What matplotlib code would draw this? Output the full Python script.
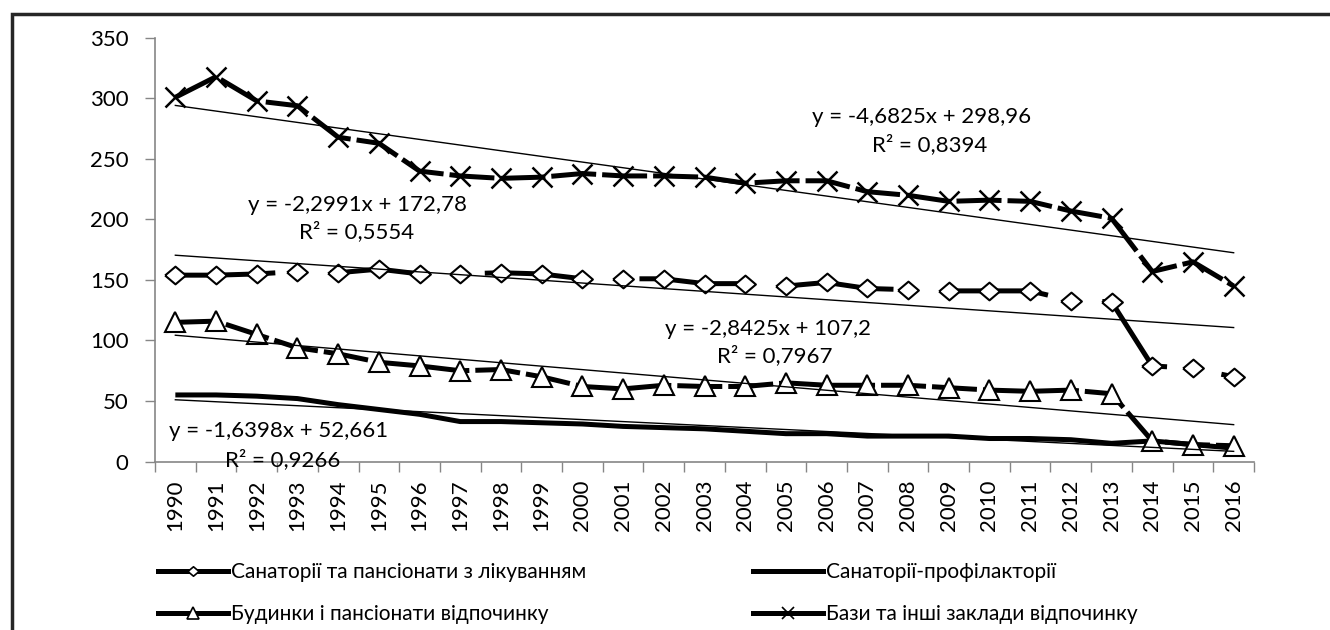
import matplotlib
matplotlib.use("Agg")
import matplotlib.pyplot as plt
from matplotlib.patches import Rectangle
from matplotlib.lines import Line2D
import numpy as np

plt.rcParams['font.family'] = ['Lato', 'Open Sans', 'DejaVu Sans']

years = list(range(1990, 2017))

sanatoria = [154, 154, 155, 157, 156, 159, 155, 155, 156, 155, 151, 151, 151, 147,
             147, 145, 148, 143, 142, 141, 141, 141, 133, 132, 79, 77, 70]
prophylact = [55, 55, 54, 52, 47, 43, 39, 33, 33, 32, 31, 29, 28, 27,
              25, 23, 23, 21, 21, 21, 19, 19, 18, 15, 17, 14, 11]
houses = [115, 116, 105, 94, 89, 82, 79, 75, 76, 70, 62, 60, 63, 62,
          62, 65, 63, 63, 63, 61, 59, 58, 59, 56, 17, 14, 13]
bases = [301, 318, 298, 294, 268, 263, 240, 236, 234, 235, 238, 236, 236, 235,
         230, 232, 232, 223, 220, 215, 216, 215, 207, 201, 157, 165, 145]

series_names = ["Санаторії та пансіонати з лікуванням",
                "Санаторії-профілакторії",
                "Будинки і пансіонати відпочинку",
                "Бази та інші заклади відпочинку"]

trend_slopes = [-2.2991, -1.6398, -2.8425, -4.6825]
trend_intercepts = [172.78, 52.661, 107.2, 298.96]
trend_eq = ["y = -2,2991x + 172,78", "y = -1,6398x + 52,661",
            "y = -2,8425x + 107,2", "y = -4,6825x + 298,96"]
trend_r2 = ["R² = 0,5554", "R² = 0,9266", "R² = 0,7967", "R² = 0,8394"]

yticks = [0, 50, 100, 150, 200, 250, 300, 350]

W, H = 1330, 630
FS = 16
FS_LEG = 15
fig = plt.figure(figsize=(W / 100, H / 100), dpi=100)
ax = fig.add_axes([155 / W, 1 - 461.5 / H, (1254 - 155) / W, (461.5 - 38) / H])

LW = 3.6
dia = [(-1, 0), (0, 0.85), (1, 0), (0, -0.85), (-1, 0)]

l_prof, = ax.plot(years, prophylact, color='black', lw=LW, solid_capstyle='butt', zorder=3)
l_hou, = ax.plot(years, houses, color='black', lw=LW, dashes=(9, 1.2), marker='^',
                 markersize=14, markerfacecolor='white', markeredgecolor='black',
                 markeredgewidth=1.5, zorder=4)
l_san, = ax.plot(years, sanatoria, color='black', lw=LW, dashes=(20, 11), marker=dia,
                 markersize=15, markerfacecolor='white', markeredgecolor='black',
                 markeredgewidth=1.5, zorder=4)
l_bas, = ax.plot(years, bases, color='black', lw=LW, dashes=(9, 1.2), marker='x',
                 markersize=15, markeredgecolor='black', markeredgewidth=1.8, zorder=4)

k = np.arange(1, len(years) + 1)
for s, b in zip(trend_slopes, trend_intercepts):
    ax.plot([years[0], years[-1]], [s * k[0] + b, s * k[-1] + b], color='black',
            lw=1.0, zorder=5)

ax.set_xlim(years[0] - 0.5, years[-1] + 0.5)
ax.set_ylim(0, 350)
ax.set_yticks(yticks)
ax.set_xticks(years)
ax.set_xticklabels([str(y) for y in years], rotation=90)
ax.set_xticks([y - 0.5 for y in years] + [years[-1] + 0.5], minor=True)
ax.tick_params(axis='x', which='major', length=0, pad=13, labelsize=FS)
ax.tick_params(axis='x', which='minor', length=7, color='#868686', width=1)
ax.tick_params(axis='y', length=7, color='#868686', width=1, pad=12, labelsize=FS)
for sp in ['top', 'right']:
    ax.spines[sp].set_visible(False)
for sp in ['left', 'bottom']:
    ax.spines[sp].set_color('#868686')
    ax.spines[sp].set_linewidth(1.2)

# trend equation labels (pixel positions)
eq_pos = [(358, 205, 357, 232), (279, 431, 283, 460), (768, 329, 775, 356), (922, 117, 930, 145)]
for (ex, ey, rx, ry), e, r in zip(eq_pos, trend_eq, trend_r2):
    fig.text(ex / W, 1 - ey / H, e, ha='center', va='center', fontsize=FS, zorder=10)
    fig.text(rx / W, 1 - ry / H, r, ha='center', va='center', fontsize=FS, zorder=10)

# legend (row-major order like Excel)
handles = [l_san, l_hou, l_prof, l_bas]
labels = [series_names[0], series_names[2], series_names[1], series_names[3]]
leg_handles = []
for h in handles:
    leg_handles.append(Line2D([], [], color='black', lw=LW, marker=h.get_marker(),
                              markersize=8, markerfacecolor='white',
                              markeredgecolor='black', markeredgewidth=1.2))
fig.legend(leg_handles, labels, loc='upper left', bbox_to_anchor=(158 / W, 1 - 562 / H),
           ncol=2, frameon=False, fontsize=FS_LEG, handlelength=3.35, handletextpad=0.15,
           columnspacing=8.0, labelspacing=1.05, borderpad=0, borderaxespad=0)

# outer chart border (cropped at right and bottom)
fig.patches.append(Rectangle((12 / W, -0.2), 1.5, 1.2 - 14 / H, transform=fig.transFigure,
                             fill=False, edgecolor='#262626', lw=2.5, clip_on=False))

fig.savefig("out.png", dpi=100)
